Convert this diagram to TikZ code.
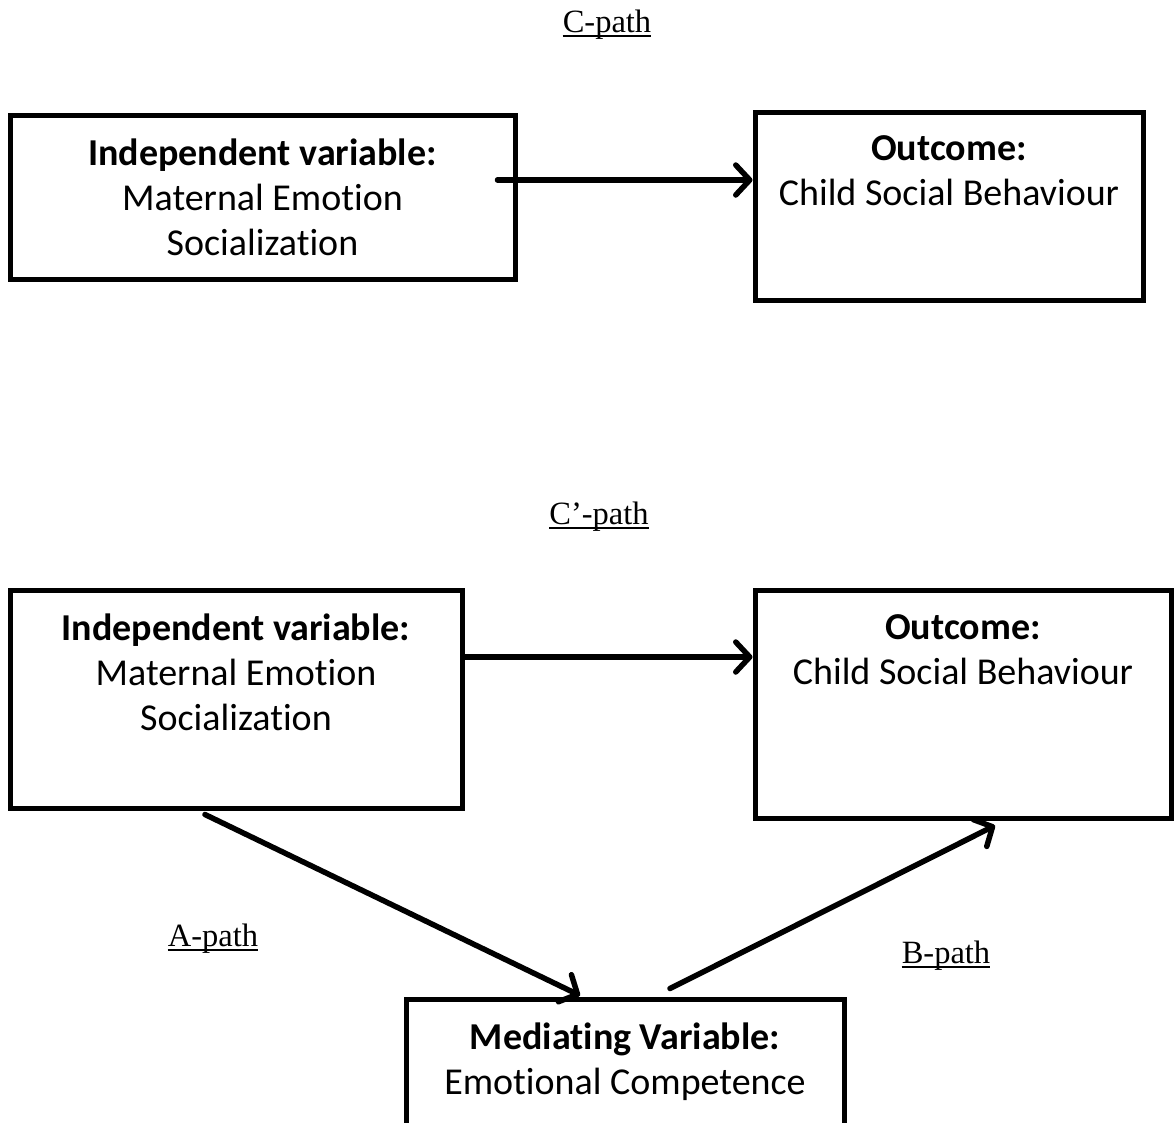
\documentclass[tikz,border=0pt]{standalone}
\usepackage{fontspec}
\setmainfont{Carlito}[Ligatures={NoCommon}]
\newfontfamily\pathfont{Liberation Serif}
\usetikzlibrary{arrows.meta}
\usetikzlibrary{positioning}
\usetikzlibrary{calc}

\tikzset{
  varbox/.style={draw, line width=5pt, inner sep=0pt},
  vartext/.style={inner sep=0pt, align=center, font=\fontsize{38}{45}\selectfont},
  pathlbl/.style={inner sep=0pt, anchor=base, font=\pathfont\fontsize{32.5}{38}\selectfont},
  patharr/.style={line width=5.5pt, line cap=round, -{Straight Barb[length=14pt, width=30pt, line cap=round, round]}}
}

\begin{document}
\begin{tikzpicture}[x=1pt,y=1pt,yscale=-1,xscale=1]
\useasboundingbox (0,0) rectangle (1175,1122);
% total effect
\node [varbox, minimum width=505pt, minimum height=164pt] (iv1) at (262.5,197) {};
\node [vartext, below=26pt of iv1.north] (iv1txt) {\textbf{Independent variable:}\\Maternal Emotion\\Socialization};
\node [varbox, minimum width=388pt, minimum height=188pt] (out1) at (949,206) {};
\node [vartext, below=26pt of out1.north] (out1txt) {\textbf{Outcome:}\\Child Social Behaviour};
% C-path
\node [pathlbl] (cpath) at (607,32) {C-path};
\draw [line width=1.8pt] ([yshift=4pt]cpath.base west) -- ([yshift=4pt]cpath.base east);
\coordinate (cstart) at ($(iv1.east)+(-20,-17)$);
\draw [patharr] (cstart) -- (cstart -| out1.west);
% mediation model
\node [varbox, minimum width=452pt, minimum height=218pt] (iv2) at (236,699) {};
\node [vartext, below=26pt of iv2.north] (iv2txt) {\textbf{Independent variable:}\\Maternal Emotion\\Socialization};
\node [varbox, minimum width=416pt, minimum height=228pt] (out2) at (963,704) {};
\node [vartext, below=27pt of out2.north] (out2txt) {\textbf{Outcome:}\\Child Social Behaviour};
\node [varbox, minimum width=438pt, minimum height=136pt] (med) at (625,1067) {};
\node [vartext, below=26pt of med.north] (medtxt) {\textbf{Mediating Variable:}\\Emotional Competence};
% C'-path
\node [pathlbl] (cppath) at (599,524) {C’-path};
\draw [line width=1.8pt] ([yshift=4pt]cppath.base west) -- ([yshift=4pt]cppath.base east);
\coordinate (cpstart) at ($(iv2.east)+(0,-42)$);
\draw [patharr] (cpstart) -- (cpstart -| out2.west);
% A-path
\node [pathlbl] (apath) at (213,946) {A-path};
\draw [line width=1.8pt] ([yshift=4pt]apath.base west) -- ([yshift=4pt]apath.base east);
\draw [patharr] ($(iv2.south)+(-31,4)$) -- ($(med.north)+(-45,-1)$);
% B-path
\node [pathlbl] (bpath) at (946,963) {B-path};
\draw [line width=1.8pt] ([yshift=4pt]bpath.base west) -- ([yshift=4pt]bpath.base east);
\draw [patharr] ($(med.north)+(45,-8)$) -- ($(out2.south)+(32,5)$);
\end{tikzpicture}
\end{document}
